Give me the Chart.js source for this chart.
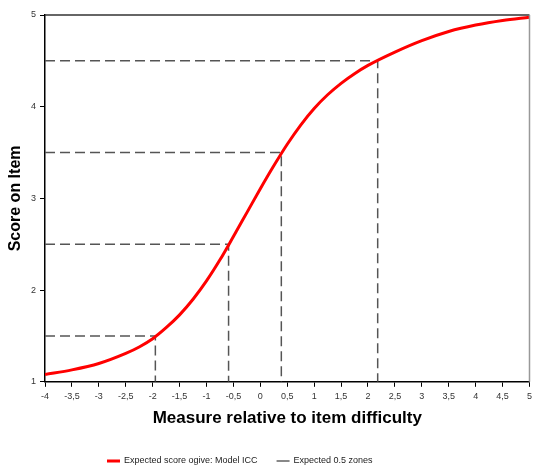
<!DOCTYPE html>
<html><head><meta charset="utf-8">
<script src="https://cdn.jsdelivr.net/npm/chart.js"></script>
<style>html,body{margin:0;padding:0;background:#fff}#wrap{width:536px;height:466px}</style>
</head><body><div id="wrap"><canvas id="c" width="536" height="466"></canvas></div>
<script>
const measureX = [-4,-3.5,-3,-2.5,-2.25,-2,-1.75,-1.5,-1.25,-1,-0.75,-0.5,-0.25,0,0.25,0.5,0.75,1,1.25,1.5,1.75,2,2.5,3,3.5,4,4.5,5];
const expectedScore = [1.08,1.13,1.20,1.31,1.38,1.47,1.59,1.73,1.90,2.10,2.33,2.585,2.845,3.105,3.355,3.59,3.80,3.98,4.13,4.255,4.36,4.45,4.595,4.72,4.82,4.89,4.94,4.975];
const zoneScores = [1.5,2.5,3.5,4.5];
const zoneMeasures = [-1.95,-0.59,0.39,2.18];
const xTickValues = [-4,-3.5,-3,-2.5,-2,-1.5,-1,-0.5,0,0.5,1,1.5,2,2.5,3,3.5,4,4.5,5];
const yTickValues = [1,2,3,4,5];
const seriesLabels = ['Expected score ogive: Model ICC','Expected 0.5 zones'];

const curve = measureX.map((x,i)=>({x:x,y:expectedScore[i]}));
const zones = [];
zoneScores.forEach((s,i)=>{
  zones.push({x:-4,y:s},{x:zoneMeasures[i],y:s},{x:zoneMeasures[i],y:1},{x:zoneMeasures[i],y:null});
});

const frame = {
  id:'frame',
  afterDatasetsDraw(chart){
    const a = chart.chartArea, ctx = chart.ctx;
    ctx.save();
    ctx.lineWidth = 1.5;
    ctx.strokeStyle = '#333';
    ctx.beginPath(); ctx.moveTo(a.left,a.top); ctx.lineTo(a.right,a.top); ctx.stroke();
    ctx.strokeStyle = '#999';
    ctx.beginPath(); ctx.moveTo(a.right,a.top); ctx.lineTo(a.right,a.bottom); ctx.stroke();
    ctx.restore();
  }
};

const legendBox = {
  id:'legendBox',
  afterDraw(chart){
    const ctx = chart.ctx;
    const y = 461;
    const cols = ['#ff0000','#888'];
    const widths = [3,2];
    let x = 107;
    ctx.save();
    ctx.font = '9px "Liberation Sans", Arial';
    ctx.textBaseline = 'middle';
    chart.data.datasets.forEach((d,i)=>{
      ctx.fillStyle = cols[i];
      ctx.fillRect(x, y - widths[i]/2, 13, widths[i]);
      ctx.fillStyle = '#222';
      ctx.fillText(d.label, x + 17, y);
      x += 17 + ctx.measureText(d.label).width + 19;
    });
    ctx.restore();
  }
};

new Chart(document.getElementById('c'),{
  type:'scatter',
  data:{datasets:[
    {label:seriesLabels[0],data:curve,showLine:true,borderColor:'#ff0000',backgroundColor:'#ff0000',borderWidth:3,pointRadius:0,cubicInterpolationMode:'monotone',order:1},
    {label:seriesLabels[1],data:zones,showLine:true,spanGaps:false,borderColor:'#555',backgroundColor:'#777',borderWidth:1.5,borderDash:[10,5],pointRadius:0,order:2}
  ]},
  options:{
    responsive:false,animation:false,
    layout:{padding:{top:15,right:3,left:0,bottom:33}},
    plugins:{
      tooltip:{enabled:false},
      legend:{display:false}
    },
    scales:{
      x:{type:'linear',min:-4,max:5,
        afterBuildTicks(s){s.ticks = xTickValues.map(v=>({value:v}));},
        ticks:{font:{family:'Liberation Sans, Arial',size:9},color:'#333',padding:4,maxRotation:0,autoSkip:false,
          callback:v=>String(v).replace('.',',')},
        grid:{display:true,drawOnChartArea:false,drawTicks:true,tickLength:5,tickColor:'#000',tickWidth:1},
        border:{color:'#000',width:1.5},
        title:{display:true,text:'Measure relative to item difficulty',font:{family:'Liberation Sans, Arial',size:17,weight:'bold'},color:'#000',padding:{top:3,bottom:4}}
      },
      y:{type:'linear',min:1,max:5,
        afterBuildTicks(s){s.ticks = yTickValues.map(v=>({value:v}));},
        afterFit(s){s.width=45;},
        ticks:{font:{family:'Liberation Sans, Arial',size:9},color:'#333',padding:4},
        grid:{display:true,drawOnChartArea:false,drawTicks:true,tickLength:5,tickColor:'#000',tickWidth:1},
        border:{color:'#000',width:1.5},
        title:{display:true,text:'Score on Item',font:{family:'Liberation Sans, Arial',size:16,weight:'bold'},color:'#000',padding:{top:6,bottom:0}}
      }
    }
  },
  plugins:[frame,legendBox]
});
</script></body></html>
